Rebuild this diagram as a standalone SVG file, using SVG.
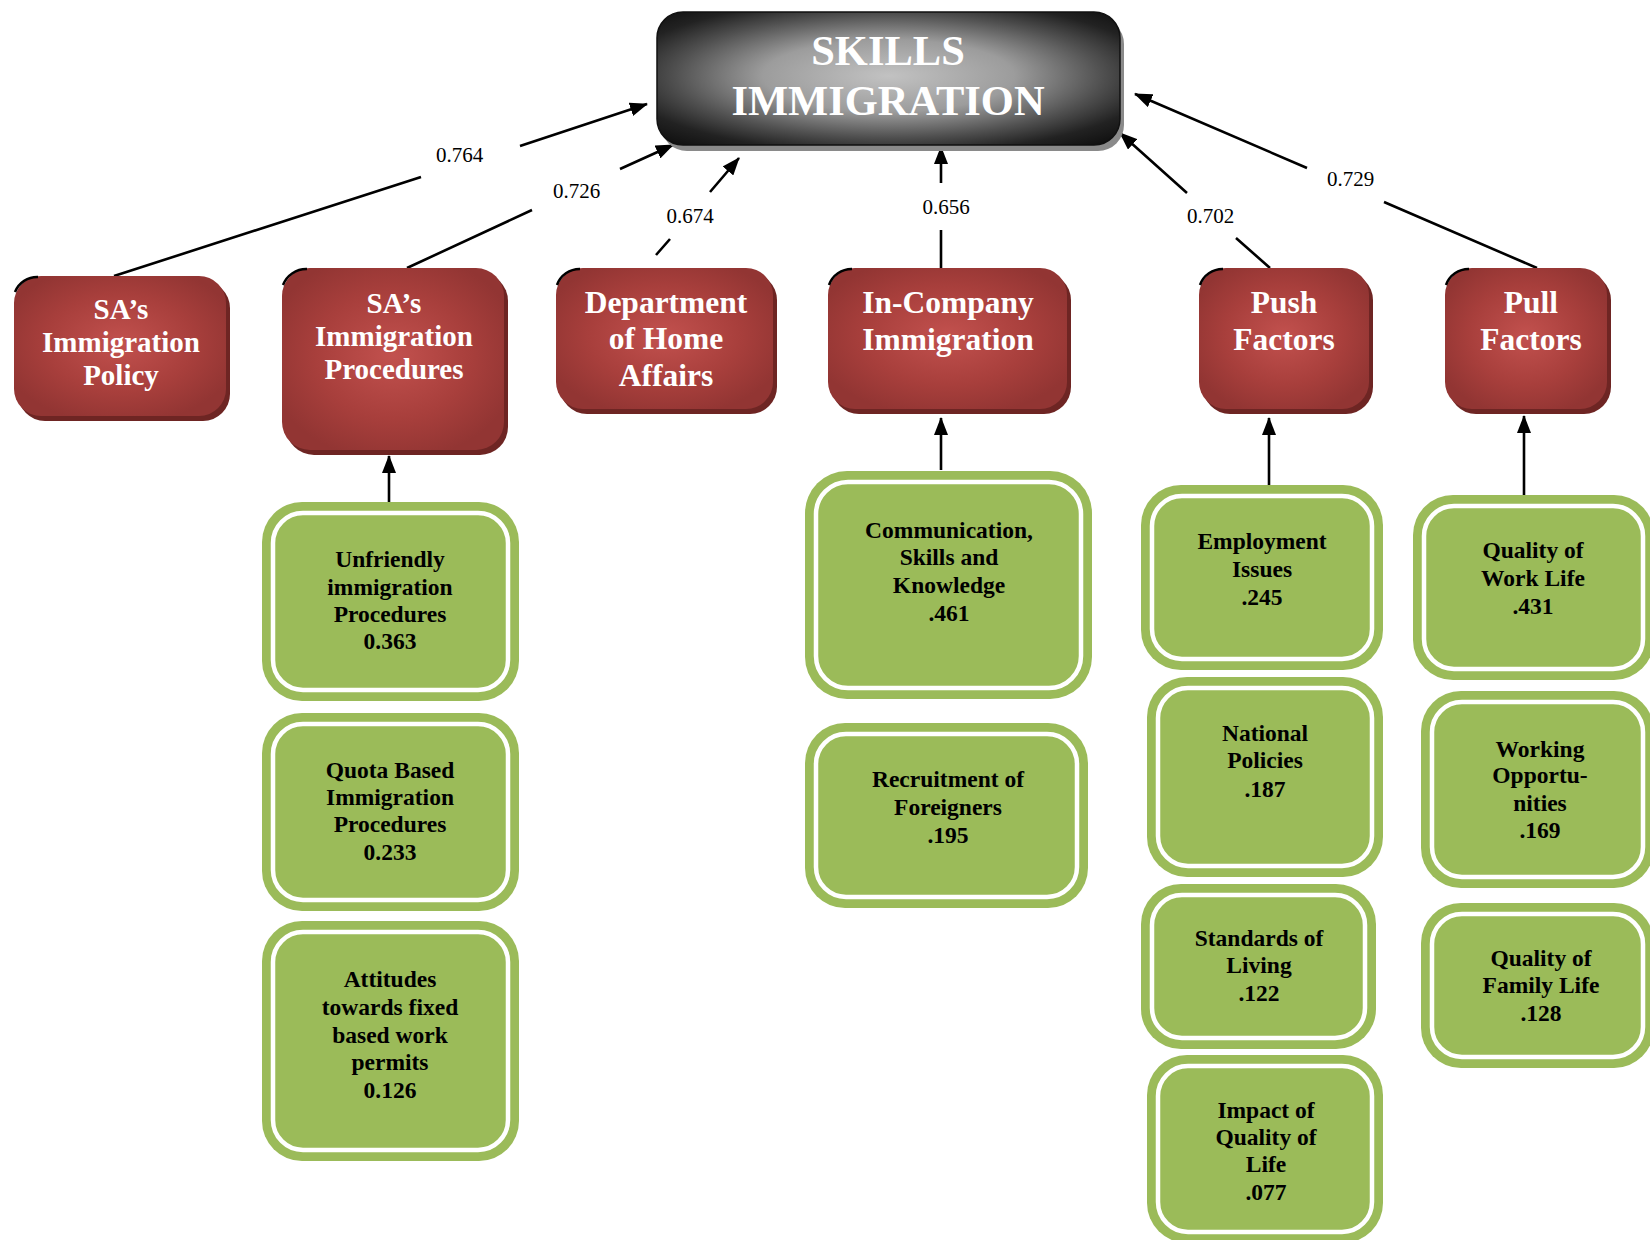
<svg xmlns="http://www.w3.org/2000/svg" width="1650" height="1240" viewBox="0 0 1650 1240">
  <style>
    .serif { font-family: "Liberation Serif", "Times New Roman", serif; }
    .title { font-size: 42.5px; font-weight: bold; fill: #ffffff; text-anchor: middle; }
    .red-s { font-size: 29px; font-weight: bold; fill: #ffffff; text-anchor: middle; }
    .red-l { font-size: 31.5px; font-weight: bold; fill: #ffffff; text-anchor: middle; }
    .green-t { font-size: 23.5px; font-weight: bold; fill: #000000; text-anchor: middle; }
    .lbl { font-size: 21px; fill: #000000; text-anchor: middle; }
    .redBody { fill: url(#redGrad); }
    .redShadow { fill: #6e2523; }
    .nick { fill: none; stroke: #000000; stroke-width: 2.5; }
    .gOut { fill: #9bbb59; }
    .gIn { fill: none; stroke: #ffffff; stroke-width: 4.5; }
    .conn { fill: none; stroke: #000000; stroke-width: 2.6; }
  </style>
  <defs>
    <radialGradient id="topGrad" cx="50%" cy="48%" r="68%">
      <stop offset="0" stop-color="#c2c2c2"/>
      <stop offset="0.4" stop-color="#9c9c9c"/>
      <stop offset="0.68" stop-color="#505050"/>
      <stop offset="0.86" stop-color="#222222"/>
      <stop offset="1" stop-color="#121212"/>
    </radialGradient>
    <radialGradient id="redGrad" cx="50%" cy="48%" r="58%">
      <stop offset="0" stop-color="#c2514e"/>
      <stop offset="0.6" stop-color="#a83f3c"/>
      <stop offset="1" stop-color="#923533"/>
    </radialGradient>
    <marker id="arr" viewBox="0 0 18 14" refX="17" refY="7" markerWidth="18" markerHeight="14" orient="auto" markerUnits="userSpaceOnUse">
      <path d="M0,0 L18,7 L0,14 z" fill="#000000"/>
    </marker>
  </defs>

  <rect width="1650" height="1240" fill="#ffffff"/>

  <!-- connectors -->
  <g id="connectors">
    <path class="conn" d="M114,276 L421,177 M520,146 L647,104" marker-end="url(#arr)"/>
    <path class="conn" d="M407,268 L532,210 M620,169 L673,145" marker-end="url(#arr)"/>
    <path class="conn" d="M656,255 L670,239 M710,192 L739,158" marker-end="url(#arr)"/>
    <path class="conn" d="M941,268 L941,230 M941,183 L941,147" marker-end="url(#arr)"/>
    <path class="conn" d="M1270,268 L1236,238 M1187,193 L1120,133" marker-end="url(#arr)"/>
    <path class="conn" d="M1537,268 L1384,202 M1307,168 L1135,94" marker-end="url(#arr)"/>
    <path class="conn" d="M389,512 L389,456" marker-end="url(#arr)"/>
    <path class="conn" d="M941,470 L941,418" marker-end="url(#arr)"/>
    <path class="conn" d="M1269,486 L1269,418" marker-end="url(#arr)"/>
    <path class="conn" d="M1524,498 L1524,416" marker-end="url(#arr)"/>
    <g class="serif">
      <text class="lbl" x="459.5" y="162">0.764</text>
      <text class="lbl" x="576.5" y="198">0.726</text>
      <text class="lbl" x="690" y="223">0.674</text>
      <text class="lbl" x="946" y="214">0.656</text>
      <text class="lbl" x="1210.5" y="223">0.702</text>
      <text class="lbl" x="1350.5" y="186">0.729</text>
    </g>
  </g>

  <!-- central node -->
  <g id="skills-immigration">
    <rect x="661" y="18" width="463" height="133" rx="26" fill="#8a8a8a"/>
    <rect x="657" y="12" width="463" height="133" rx="26" fill="url(#topGrad)" stroke="#111111" stroke-width="1.5"/>
    <text class="serif title"><tspan x="888" y="65">SKILLS</tspan><tspan x="888" y="115">IMMIGRATION</tspan></text>
  </g>

  <!-- first level nodes -->
  <g id="sa-policy">
    <rect class="redShadow" x="18" y="281" width="212" height="140" rx="27"/>
    <rect class="redBody" x="14" y="276" width="212" height="140" rx="27"/>
    <path class="nick" d="M15,292 A24,24 0 0 1 38,277"/>
    <text class="serif red-s"><tspan x="121" y="319">SA’s</tspan><tspan x="121" y="352">Immigration</tspan><tspan x="121" y="385">Policy</tspan></text>
  </g>

  <g id="sa-procedures">
    <rect class="redShadow" x="286" y="273" width="222" height="182" rx="28"/>
    <rect class="redBody" x="282" y="268" width="222" height="182" rx="28"/>
    <path class="nick" d="M283,285 A25,25 0 0 1 307,269"/>
    <text class="serif red-s"><tspan x="394" y="313">SA’s</tspan><tspan x="394" y="346">Immigration</tspan><tspan x="394" y="379">Procedures</tspan></text>
  </g>

  <g id="home-affairs">
    <rect class="redShadow" x="560" y="273" width="217" height="141" rx="27"/>
    <rect class="redBody" x="556" y="268" width="217" height="141" rx="27"/>
    <path class="nick" d="M557,285 A24,24 0 0 1 580,269"/>
    <text class="serif red-l"><tspan x="666" y="313">Department</tspan><tspan x="666" y="349">of Home</tspan><tspan x="666" y="386">Affairs</tspan></text>
  </g>

  <g id="in-company">
    <rect class="redShadow" x="832" y="273" width="239" height="141" rx="27"/>
    <rect class="redBody" x="828" y="268" width="239" height="141" rx="27"/>
    <path class="nick" d="M829,285 A24,24 0 0 1 852,269"/>
    <text class="serif red-l"><tspan x="948" y="313">In-Company</tspan><tspan x="948" y="350">Immigration</tspan></text>
  </g>

  <g id="push-factors">
    <rect class="redShadow" x="1203" y="273" width="170" height="141" rx="27"/>
    <rect class="redBody" x="1199" y="268" width="170" height="141" rx="27"/>
    <path class="nick" d="M1200,285 A24,24 0 0 1 1223,269"/>
    <text class="serif red-l"><tspan x="1284" y="313">Push</tspan><tspan x="1284" y="350">Factors</tspan></text>
  </g>

  <g id="pull-factors">
    <rect class="redShadow" x="1449" y="273" width="162" height="141" rx="27"/>
    <rect class="redBody" x="1445" y="268" width="162" height="141" rx="27"/>
    <path class="nick" d="M1446,285 A24,24 0 0 1 1469,269"/>
    <text class="serif red-l"><tspan x="1531" y="313">Pull</tspan><tspan x="1531" y="350">Factors</tspan></text>
  </g>

  <!-- second level nodes -->
  <g id="unfriendly">
    <rect class="gOut" x="262" y="502" width="257" height="199" rx="40"/>
    <rect class="gIn" x="273" y="513" width="235" height="177" rx="30"/>
    <text class="serif green-t"><tspan x="390" y="567">Unfriendly</tspan><tspan x="390" y="594.5">immigration</tspan><tspan x="390" y="622">Procedures</tspan><tspan x="390" y="649">0.363</tspan></text>
  </g>

  <g id="quota">
    <rect class="gOut" x="262" y="713" width="257" height="198" rx="40"/>
    <rect class="gIn" x="273" y="724" width="235" height="176" rx="30"/>
    <text class="serif green-t"><tspan x="390" y="778">Quota Based</tspan><tspan x="390" y="805">Immigration</tspan><tspan x="390" y="832">Procedures</tspan><tspan x="390" y="860">0.233</tspan></text>
  </g>

  <g id="attitudes">
    <rect class="gOut" x="262" y="921" width="257" height="240" rx="40"/>
    <rect class="gIn" x="273" y="932" width="235" height="218" rx="30"/>
    <text class="serif green-t"><tspan x="390" y="987">Attitudes</tspan><tspan x="390" y="1015">towards fixed</tspan><tspan x="390" y="1043">based work</tspan><tspan x="390" y="1070">permits</tspan><tspan x="390" y="1098">0.126</tspan></text>
  </g>

  <g id="communication">
    <rect class="gOut" x="805" y="471" width="287" height="228" rx="42"/>
    <rect class="gIn" x="816" y="482" width="265" height="206" rx="32"/>
    <text class="serif green-t"><tspan x="949" y="538">Communication,</tspan><tspan x="949" y="565">Skills and</tspan><tspan x="949" y="593">Knowledge</tspan><tspan x="949" y="621">.461</tspan></text>
  </g>

  <g id="recruitment">
    <rect class="gOut" x="805" y="723" width="283" height="185" rx="40"/>
    <rect class="gIn" x="816" y="734" width="261" height="163" rx="30"/>
    <text class="serif green-t"><tspan x="948" y="787">Recruitment of</tspan><tspan x="948" y="815">Foreigners</tspan><tspan x="948" y="843">.195</tspan></text>
  </g>

  <g id="employment">
    <rect class="gOut" x="1141" y="485" width="242" height="185" rx="40"/>
    <rect class="gIn" x="1152" y="496" width="220" height="163" rx="30"/>
    <text class="serif green-t"><tspan x="1262" y="549">Employment</tspan><tspan x="1262" y="577">Issues</tspan><tspan x="1262" y="605">.245</tspan></text>
  </g>

  <g id="national-policies">
    <rect class="gOut" x="1147" y="677" width="236" height="200" rx="40"/>
    <rect class="gIn" x="1158" y="688" width="214" height="178" rx="30"/>
    <text class="serif green-t"><tspan x="1265" y="741">National</tspan><tspan x="1265" y="768">Policies</tspan><tspan x="1265" y="797">.187</tspan></text>
  </g>

  <g id="standards-living">
    <rect class="gOut" x="1141" y="884" width="235" height="165" rx="40"/>
    <rect class="gIn" x="1152" y="895" width="213" height="143" rx="30"/>
    <text class="serif green-t"><tspan x="1259" y="946">Standards of</tspan><tspan x="1259" y="973">Living</tspan><tspan x="1259" y="1001">.122</tspan></text>
  </g>

  <g id="impact-quality">
    <rect class="gOut" x="1147" y="1055" width="236" height="188" rx="40"/>
    <rect class="gIn" x="1158" y="1066" width="214" height="166" rx="30"/>
    <text class="serif green-t"><tspan x="1266" y="1118">Impact of</tspan><tspan x="1266" y="1145">Quality of</tspan><tspan x="1266" y="1172">Life</tspan><tspan x="1266" y="1200">.077</tspan></text>
  </g>

  <g id="work-life">
    <rect class="gOut" x="1413" y="495" width="241" height="185" rx="40"/>
    <rect class="gIn" x="1424" y="506" width="219" height="163" rx="30"/>
    <text class="serif green-t"><tspan x="1533" y="558">Quality of</tspan><tspan x="1533" y="586">Work Life</tspan><tspan x="1533" y="614">.431</tspan></text>
  </g>

  <g id="working-opportunities">
    <rect class="gOut" x="1421" y="691" width="233" height="197" rx="40"/>
    <rect class="gIn" x="1432" y="702" width="211" height="175" rx="30"/>
    <text class="serif green-t"><tspan x="1540" y="757">Working</tspan><tspan x="1540" y="783">Opportu-</tspan><tspan x="1540" y="811">nities</tspan><tspan x="1540" y="838">.169</tspan></text>
  </g>

  <g id="family-life">
    <rect class="gOut" x="1421" y="903" width="233" height="165" rx="40"/>
    <rect class="gIn" x="1432" y="914" width="211" height="143" rx="30"/>
    <text class="serif green-t"><tspan x="1541" y="966">Quality of</tspan><tspan x="1541" y="993">Family Life</tspan><tspan x="1541" y="1021">.128</tspan></text>
  </g>
</svg>
